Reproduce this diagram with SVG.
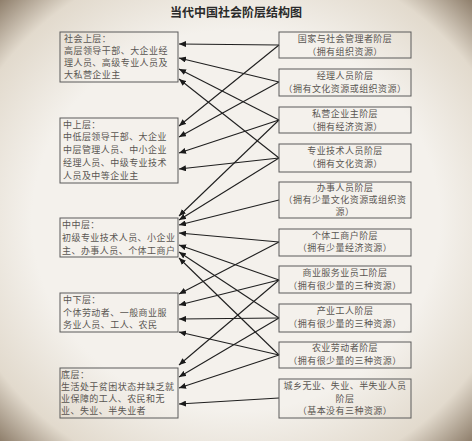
<svg xmlns="http://www.w3.org/2000/svg" width="472" height="441" viewBox="0 0 472 441">
<defs>
<radialGradient id="vig" cx="0.5" cy="0.5" r="0.72">
<stop offset="0.6" stop-color="#f4f1ec"/>
<stop offset="0.84" stop-color="#e2dacd"/>
<stop offset="1" stop-color="#857460"/>
</radialGradient>
<marker id="ah" markerWidth="7" markerHeight="6" refX="7" refY="3" orient="auto" markerUnits="userSpaceOnUse">
<path d="M0,0 L7,3 L0,6 Z" fill="#1a1a1a"/>
</marker>
<style>
.box{fill:none;stroke:#5a5a5a;stroke-width:1}
.t{font-family:"Noto Sans CJK SC","Noto Sans CJK JP",sans-serif;font-size:9px;letter-spacing:0.45px;fill:#5a5652}
.c{text-anchor:middle}
.title{font-family:"Noto Sans CJK SC",sans-serif;font-size:12px;font-weight:bold;fill:#2a2a2a;text-anchor:middle}
.ln{stroke:#1f1f1f;stroke-width:1.1;fill:none;marker-end:url(#ah)}
</style>
</defs>
<rect width="472" height="441" fill="url(#vig)"/>
<text class="title" x="236" y="17">当代中国社会阶层结构图</text>

<g id="connectors">
<line class="ln" x1="279" y1="45" x2="179" y2="44"/>
<line class="ln" x1="279" y1="45" x2="179" y2="126"/>
<line class="ln" x1="279" y1="82" x2="179" y2="58"/>
<line class="ln" x1="279" y1="82" x2="179" y2="137"/>
<line class="ln" x1="279" y1="120" x2="179" y2="69"/>
<line class="ln" x1="279" y1="120" x2="179" y2="153"/>
<line class="ln" x1="279" y1="120" x2="179" y2="216"/>
<line class="ln" x1="279" y1="158" x2="179" y2="79"/>
<line class="ln" x1="279" y1="158" x2="179" y2="169"/>
<line class="ln" x1="279" y1="158" x2="179" y2="220"/>
<line class="ln" x1="279" y1="200" x2="179" y2="225"/>
<line class="ln" x1="279" y1="242" x2="179" y2="233"/>
<line class="ln" x1="279" y1="242" x2="179" y2="294"/>
<line class="ln" x1="279" y1="280" x2="179" y2="245"/>
<line class="ln" x1="279" y1="280" x2="179" y2="305"/>
<line class="ln" x1="279" y1="280" x2="179" y2="365"/>
<line class="ln" x1="279" y1="318" x2="179" y2="252"/>
<line class="ln" x1="279" y1="318" x2="179" y2="319"/>
<line class="ln" x1="279" y1="318" x2="179" y2="377"/>
<line class="ln" x1="279" y1="355" x2="179" y2="258"/>
<line class="ln" x1="279" y1="355" x2="179" y2="332"/>
<line class="ln" x1="279" y1="355" x2="179" y2="388"/>
<line class="ln" x1="279" y1="398" x2="179" y2="404"/>
</g>

<g id="upper">
<rect class="box" x="60" y="32" width="118" height="50"/>
<text class="t" x="64" y="42">社会上层：</text>
<text class="t" x="64" y="54">高层领导干部、大企业经</text>
<text class="t" x="64" y="66">理人员、高级专业人员及</text>
<text class="t" x="64" y="78">大私营企业主</text>
</g>
<g id="upper-middle">
<rect class="box" x="60" y="118" width="118" height="65"/>
<text class="t" x="63" y="128">中上层：</text>
<text class="t" x="63" y="140">中低层领导干部、大企业</text>
<text class="t" x="63" y="153">中层管理人员、中小企业</text>
<text class="t" x="63" y="166">经理人员、中级专业技术</text>
<text class="t" x="63" y="179">人员及中等企业主</text>
</g>
<g id="middle">
<rect class="box" x="60" y="218" width="118" height="39"/>
<text class="t" x="62" y="228">中中层：</text>
<text class="t" x="62" y="241">初级专业技术人员、小企业</text>
<text class="t" x="62" y="254">主、办事人员、个体工商户</text>
</g>
<g id="lower-middle">
<rect class="box" x="60" y="293" width="118" height="39"/>
<text class="t" x="63" y="303">中下层：</text>
<text class="t" x="63" y="316">个体劳动者、一般商业服</text>
<text class="t" x="63" y="328">务业人员、工人、农民</text>
</g>
<g id="bottom">
<rect class="box" x="60" y="368" width="118" height="50"/>
<text class="t" x="61" y="378">底层：</text>
<text class="t" x="61" y="390">生活处于贫困状态并缺乏就</text>
<text class="t" x="61" y="402">业保障的工人、农民和无</text>
<text class="t" x="61" y="414">业、失业、半失业者</text>
</g>

<g id="r1">
<rect class="box" x="279" y="32" width="132" height="26"/>
<text class="t c" x="345" y="42">国家与社会管理者阶层</text>
<text class="t c" x="345" y="55">（拥有组织资源）</text>
</g>
<g id="r2">
<rect class="box" x="279" y="69" width="132" height="27"/>
<text class="t c" x="345" y="79">经理人员阶层</text>
<text class="t c" x="345" y="92">（拥有文化资源或组织资源）</text>
</g>
<g id="r3">
<rect class="box" x="279" y="107" width="132" height="26"/>
<text class="t c" x="345" y="117">私营企业主阶层</text>
<text class="t c" x="345" y="130">（拥有经济资源）</text>
</g>
<g id="r4">
<rect class="box" x="279" y="144" width="132" height="28"/>
<text class="t c" x="345" y="154">专业技术人员阶层</text>
<text class="t c" x="345" y="167">（拥有文化资源）</text>
</g>
<g id="r5">
<rect class="box" x="279" y="182" width="132" height="36"/>
<text class="t c" x="345" y="191">办事人员阶层</text>
<text class="t c" x="345" y="203">（拥有少量文化资源或组织资</text>
<text class="t c" x="345" y="215">源）</text>
</g>
<g id="r6">
<rect class="box" x="279" y="229" width="132" height="27"/>
<text class="t c" x="345" y="239">个体工商户阶层</text>
<text class="t c" x="345" y="251">（拥有少量经济资源）</text>
</g>
<g id="r7">
<rect class="box" x="279" y="266" width="132" height="27"/>
<text class="t c" x="345" y="276">商业服务业员工阶层</text>
<text class="t c" x="345" y="289">（拥有很少量的三种资源）</text>
</g>
<g id="r8">
<rect class="box" x="279" y="304" width="132" height="28"/>
<text class="t c" x="345" y="314">产业工人阶层</text>
<text class="t c" x="345" y="327">（拥有很少量的三种资源）</text>
</g>
<g id="r9">
<rect class="box" x="279" y="342" width="132" height="26"/>
<text class="t c" x="345" y="351">农业劳动者阶层</text>
<text class="t c" x="345" y="364">（拥有很少量的三种资源）</text>
</g>
<g id="r10">
<rect class="box" x="279" y="379" width="132" height="39"/>
<text class="t c" x="345" y="389">城乡无业、失业、半失业人员</text>
<text class="t c" x="345" y="402">阶层</text>
<text class="t c" x="345" y="414">（基本没有三种资源）</text>
</g>
</svg>
